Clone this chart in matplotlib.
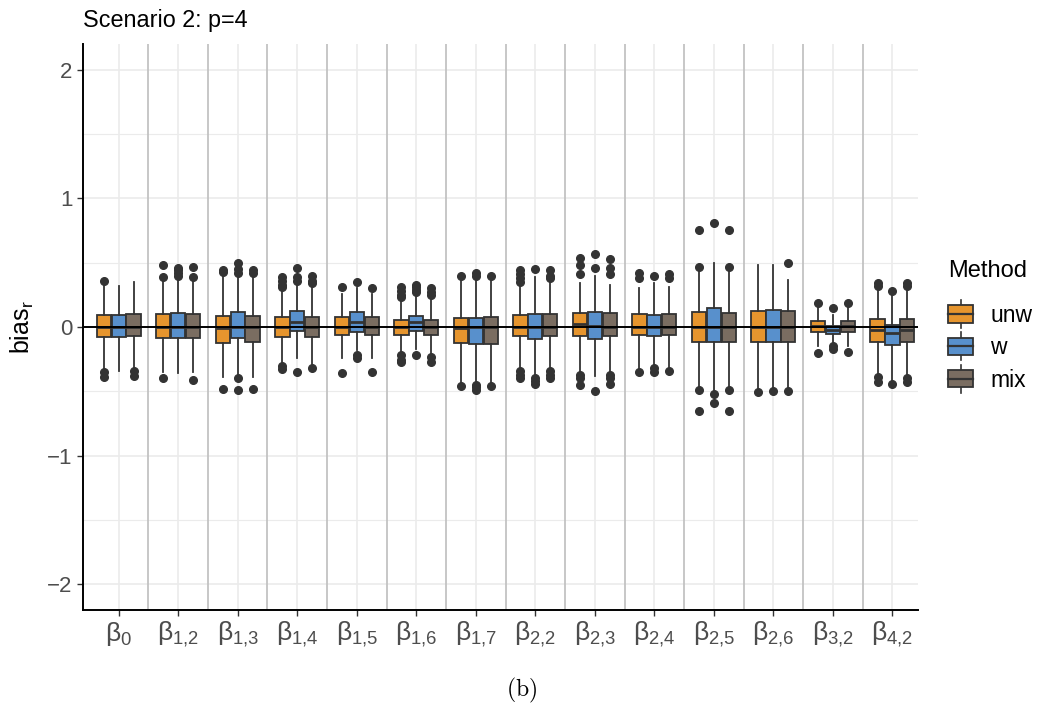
import matplotlib
matplotlib.use("Agg")
import matplotlib.pyplot as plt
from matplotlib.legend_handler import HandlerBase
from matplotlib.patches import Rectangle, Patch
from matplotlib.lines import Line2D

plt.rcParams['font.family'] = ['Liberation Sans', 'DejaVu Sans']
plt.rcParams['mathtext.fontset'] = 'custom'
plt.rcParams['mathtext.rm'] = 'Liberation Sans'
plt.rcParams['mathtext.it'] = 'Liberation Sans:italic'

# data
params = ['0', '1,2', '1,3', '1,4', '1,5', '1,6', '1,7',
          '2,2', '2,3', '2,4', '2,5', '2,6', '3,2', '4,2']
methods = ['unw', 'w', 'mix']
colors = ['#E6952E', '#5890CC', '#7A6D61']

# (whisker low, q1, median, q3, whisker high) for each parameter
unw_box = [(-0.33, -0.08, 0.0, 0.093, 0.33), (-0.35, -0.085, 0.0, 0.10, 0.37),
           (-0.39, -0.127, -0.01, 0.085, 0.42), (-0.29, -0.075, 0.0, 0.08, 0.30),
           (-0.24, -0.065, 0.0, 0.075, 0.26), (-0.20, -0.065, 0.0, 0.055, 0.21),
           (-0.44, -0.127, -0.01, 0.067, 0.38), (-0.32, -0.067, 0.0, 0.093, 0.34),
           (-0.35, -0.067, 0.02, 0.11, 0.34), (-0.33, -0.065, 0.0, 0.10, 0.30),
           (-0.48, -0.12, 0.0, 0.114, 0.45), (-0.49, -0.115, 0.0, 0.125, 0.48),
           (-0.15, -0.036, 0.008, 0.047, 0.16), (-0.37, -0.115, -0.02, 0.06, 0.31)]
w_box = [(-0.34, -0.08, 0.0, 0.093, 0.32), (-0.36, -0.085, 0.0, 0.11, 0.38),
         (-0.38, -0.088, 0.0, 0.12, 0.38), (-0.24, -0.03, 0.04, 0.125, 0.34),
         (-0.18, -0.035, 0.04, 0.12, 0.30), (-0.17, -0.03, 0.04, 0.085, 0.24),
         (-0.43, -0.13, 0.0, 0.067, 0.38), (-0.37, -0.09, 0.0, 0.10, 0.39),
         (-0.38, -0.095, 0.01, 0.12, 0.40), (-0.29, -0.07, 0.0, 0.093, 0.34),
         (-0.51, -0.12, 0.0, 0.145, 0.50), (-0.49, -0.115, 0.0, 0.13, 0.48),
         (-0.12, -0.057, -0.025, 0.008, 0.093), (-0.42, -0.14, -0.05, 0.016, 0.26)]
mix_box = [(-0.32, -0.07, 0.0, 0.10, 0.35), (-0.35, -0.085, 0.0, 0.10, 0.38),
           (-0.39, -0.12, 0.0, 0.085, 0.41), (-0.29, -0.075, 0.0, 0.08, 0.31),
           (-0.24, -0.065, 0.0, 0.075, 0.26), (-0.21, -0.065, 0.0, 0.055, 0.22),
           (-0.44, -0.13, 0.0, 0.075, 0.38), (-0.32, -0.067, 0.0, 0.10, 0.37),
           (-0.36, -0.067, 0.0, 0.11, 0.33), (-0.32, -0.065, 0.0, 0.10, 0.31),
           (-0.48, -0.12, 0.0, 0.11, 0.46), (-0.49, -0.115, 0.0, 0.125, 0.365),
           (-0.15, -0.036, 0.008, 0.047, 0.16), (-0.38, -0.115, -0.02, 0.062, 0.31)]

unw_out = [[0.36, -0.35, -0.39], [0.48, 0.39, -0.40], [0.44, 0.43, -0.485],
           [0.39, 0.36, 0.33, 0.31, -0.30, -0.33], [0.31, -0.36],
           [0.31, 0.28, 0.25, 0.23, -0.22, -0.26, -0.27], [0.40, -0.455],
           [0.44, 0.41, 0.38, 0.35, -0.34, -0.37, -0.40],
           [0.54, 0.48, 0.41, -0.37, -0.40, -0.45], [0.42, 0.38, -0.35],
           [0.755, 0.47, -0.49, -0.65], [-0.505], [0.19, -0.20],
           [0.34, 0.32, -0.39, -0.43]]
w_out = [[], [0.46, 0.44, 0.42, 0.40], [0.50, 0.45, 0.42, -0.40, -0.49],
         [0.46, 0.39, 0.36, -0.35], [0.35, -0.22, -0.24],
         [0.33, 0.31, 0.29, 0.27, -0.22], [0.42, 0.40, -0.45, -0.47, -0.49],
         [0.45, -0.40, -0.42, -0.44], [0.57, 0.46, -0.495], [0.40, -0.32, -0.35],
         [0.805, -0.52, -0.59], [-0.495], [0.145, -0.15, -0.17], [0.28, -0.44]]
mix_out = [[-0.34, -0.38], [0.47, 0.39, -0.41], [0.44, 0.42, -0.485],
           [0.40, 0.36, 0.34, -0.32], [0.30, -0.35],
           [0.30, 0.27, 0.25, -0.23, -0.27], [0.40, -0.455],
           [0.44, 0.40, 0.38, -0.34, -0.37, -0.40],
           [0.53, 0.46, 0.41, -0.37, -0.40, -0.44], [0.41, 0.38, -0.34],
           [0.755, 0.47, -0.49, -0.65], [0.495, -0.495], [0.19, -0.195],
           [0.34, 0.32, -0.40, -0.43]]

boxes = [unw_box, w_box, mix_box]
outs = [unw_out, w_out, mix_out]

W, H = 1043, 709
fig = plt.figure(figsize=(W / 100, H / 100), dpi=100)
ax = fig.add_axes([83 / W, 1 - 610 / H, (918 - 83) / W, (610 - 44) / H])

n = len(params)
xs = list(range(1, n + 1))
edge = '#333333'

# grid
for y in [-2, -1.5, -1, -0.5, 0.5, 1, 1.5, 2]:
    ax.axhline(y, color='#ebebeb', lw=1.2 if y % 1 == 0 else 0.8, zorder=0)
for x in xs:
    ax.axvline(x, color='#ebebeb', lw=1.2, zorder=0)
for x in xs[:-1]:
    ax.axvline(x + 0.5, color='#bebebe', lw=1.2, zorder=0.5)

for k in range(3):
    stats = []
    for i in range(n):
        lo, q1, med, q3, hi = boxes[k][i]
        stats.append(dict(whislo=lo, q1=q1, med=med, q3=q3, whishi=hi,
                          fliers=outs[k][i]))
    pos = [x + (k - 1) * 0.25 for x in xs]
    ax.bxp(stats, positions=pos, widths=0.24, patch_artist=True,
           showcaps=False, manage_ticks=False,
           boxprops=dict(facecolor=colors[k], edgecolor=edge, linewidth=1.3),
           whiskerprops=dict(color=edge, linewidth=1.3),
           medianprops=dict(color=edge, linewidth=2.0),
           flierprops=dict(marker='o', markerfacecolor=edge,
                           markeredgecolor=edge, markersize=5.5),
           zorder=2)

ax.axhline(0, color='black', lw=1.4, zorder=5)

ax.set_xlim(0.4, 14.43)
ax.set_ylim(-2.2, 2.2)
ax.set_yticks([-2, -1, 0, 1, 2])
ax.set_yticklabels(['\u22122', '\u22121', '0', '1', '2'])
ax.set_xticks(xs)
ax.set_xticklabels(['\u03b2' + r'$_{\mathrm{%s}}$' % p.replace(',', '{,}')
                    for p in params])
ax.tick_params(axis='both', colors='#333333', length=4, width=1,
               labelcolor='#4d4d4d', labelsize=16)
ax.tick_params(axis='x', labelsize=19, pad=3)
for s in ['top', 'right']:
    ax.spines[s].set_visible(False)
for s in ['left', 'bottom']:
    ax.spines[s].set_linewidth(1.4)
    ax.spines[s].set_color('black')
ax.set_ylabel(r'bias$_{\mathrm{r}}$', fontsize=18, labelpad=8)

fig.text(83 / W, 1 - 20 / H, 'Scenario 2: p=4', fontsize=16.8,
         ha='left', va='center')
fig.text(522 / W, 1 - 690 / H, r'$\mathrm{(b)}$', fontsize=17,
         ha='center', va='center', math_fontfamily='cm')


class BoxHandler(HandlerBase):
    def create_artists(self, legend, orig_handle, xdescent, ydescent,
                       width, height, fontsize, trans):
        fc = orig_handle.get_facecolor()
        x0, y0 = -xdescent, -ydescent
        cx = x0 + width / 2
        wl = Line2D([cx, cx], [y0 - 0.3 * height, y0 + 1.3 * height],
                    color=edge, lw=1.2, transform=trans)
        rect = Rectangle((x0, y0), width, height, facecolor=fc,
                         edgecolor=edge, lw=1.3, transform=trans)
        med = Line2D([x0, x0 + width], [y0 + height / 2] * 2, color=edge,
                     lw=1.6, transform=trans)
        return [wl, rect, med]


handles = [Patch(facecolor=c) for c in colors]
leg = fig.legend(handles, methods, title='Method', loc='upper left',
                 bbox_to_anchor=(948 / W, 1 - 260 / H), frameon=False,
                 borderpad=0, borderaxespad=0, fontsize=16.5,
                 title_fontsize=17, handlelength=1.1, handleheight=0.8,
                 handletextpad=0.75, labelspacing=0.4,
                 handler_map={Patch: BoxHandler()})
leg._legend_box.align = 'left'
leg._legend_box.sep = 16

fig.savefig('out.png', dpi=100)
